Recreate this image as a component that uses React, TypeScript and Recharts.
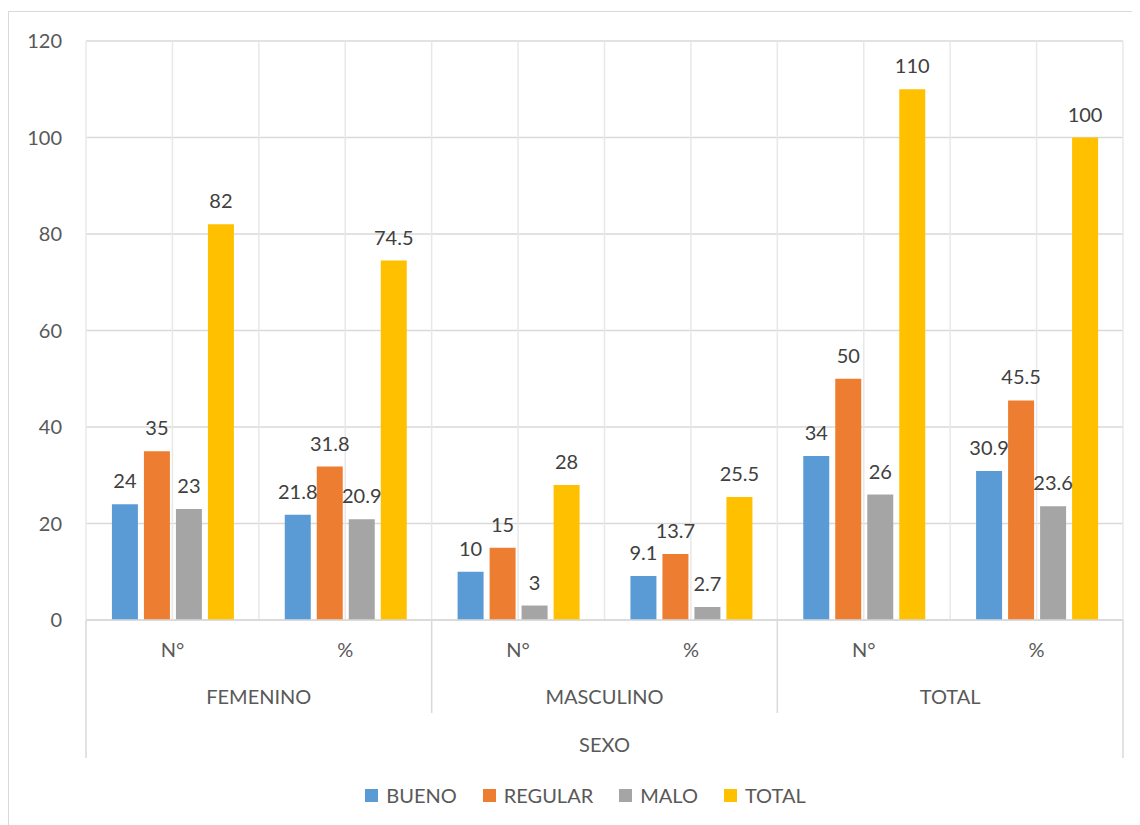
import React from 'react';
import {
  ComposedChart,
  Bar,
  XAxis,
  YAxis,
  CartesianGrid,
  Legend,
  LabelList,
} from 'recharts';

// Survey results by sex: count (N°) and percentage (%) per rating
const groups = ['FEMENINO', 'MASCULINO', 'TOTAL'];
const subLabels = ['N°', '%'];
const bueno = [24, 21.8, 10, 9.1, 34, 30.9];
const regular = [35, 31.8, 15, 13.7, 50, 45.5];
const malo = [23, 20.9, 3, 2.7, 26, 23.6];
const total = [82, 74.5, 28, 25.5, 110, 100];
const yTicks = [0, 20, 40, 60, 80, 100, 120];
const axisTitle = 'SEXO';

const series = [
  { key: 'BUENO', values: bueno, color: '#5B9BD5' },
  { key: 'REGULAR', values: regular, color: '#ED7D31' },
  { key: 'MALO', values: malo, color: '#A5A5A5' },
  { key: 'TOTAL', values: total, color: '#FFC000' },
];

const data = groups.flatMap((g, gi) =>
  subLabels.map((s, si) => {
    const i = gi * subLabels.length + si;
    const row: Record<string, string | number> = { id: `${g}|${s}`, group: g, sub: s };
    series.forEach((se) => {
      row[se.key] = se.values[i];
    });
    return row;
  })
);

const W = 1132;
const H = 817;
const MARGIN = { top: 33, right: 17, left: 0, bottom: 5 };
const Y_WIDTH = 78;
const PLOT_W = W - Y_WIDTH - MARGIN.right;
const STEP = PLOT_W / data.length;
const FONT = 'Lato, "Open Sans", sans-serif';
const AXIS_TEXT = '#595959';
const LABEL_TEXT = '#404040';
const LINE = '#d9d9d9';

const MultiLevelTick = (props: any) => {
  const { x, y, payload } = props;
  const i = payload.index;
  const row = data[i];
  const per = subLabels.length;
  const parts: React.ReactNode[] = [];
  parts.push(
    <text key="sub" x={x} y={y + 30} dy="0.35em" textAnchor="middle" fill={AXIS_TEXT} fontSize={20} fontFamily={FONT}>
      {row.sub as string}
    </text>
  );
  if (i % per === 0) {
    const left = x - STEP / 2;
    parts.push(
      <text key="grp" x={left + (STEP * per) / 2} y={y + 77} dy="0.35em" textAnchor="middle" fill={AXIS_TEXT} fontSize={20} fontFamily={FONT}>
        {row.group as string}
      </text>
    );
    parts.push(
      <line key="sep" x1={left} x2={left} y1={y} y2={y + (i === 0 ? 138 : 93)} stroke={LINE} strokeWidth={1.5} />
    );
    if (i === 0) {
      parts.push(
        <text key="title" x={left + PLOT_W / 2} y={y + 125} dy="0.35em" textAnchor="middle" fill={AXIS_TEXT} fontSize={20} fontFamily={FONT}>
          {axisTitle}
        </text>
      );
    }
  }
  if (i === data.length - 1) {
    const right = x + STEP / 2;
    parts.push(<line key="end" x1={right} x2={right} y1={y} y2={y + 138} stroke={LINE} strokeWidth={1.5} />);
  }
  return <g>{parts}</g>;
};

// Legend keeps the series order (BUENO, REGULAR, MALO, TOTAL)
const LegendContent = () => (
  <div style={{ height: 50, display: 'flex', justifyContent: 'center', alignItems: 'center', fontFamily: FONT, marginLeft: 40 }}>
    {series.map((se, k) => (
      <div key={se.key} style={{ display: 'flex', alignItems: 'center', marginRight: k === series.length - 1 ? 0 : 26 }}>
        <span style={{ width: 13, height: 13, background: se.color, display: 'inline-block', marginRight: 8 }} />
        <span style={{ fontSize: 20, color: AXIS_TEXT }}>{se.key}</span>
      </div>
    ))}
  </div>
);

export default function App() {
  return (
    <div style={{ position: 'relative', width: W, height: H, background: '#fff' }}>
      <div
        style={{
          position: 'absolute',
          left: 0,
          top: 3,
          right: -20,
          bottom: -20,
          borderTop: `1.5px solid ${LINE}`,
          borderLeft: `1.5px solid ${LINE}`,
          pointerEvents: 'none',
        }}
      />
      <ComposedChart
        width={W}
        height={H}
        data={data}
        margin={MARGIN}
        barCategoryGap="15%"
        barGap={6}
      >
        <CartesianGrid vertical={false} stroke={LINE} strokeWidth={1.5} />
        <CartesianGrid
          horizontal={false}
          stroke="#e8e8e8"
          strokeWidth={1.5}
          verticalCoordinatesGenerator={({ offset }: any) =>
            Array.from({ length: data.length * 2 + 1 }, (_, k) => offset.left + (k * offset.width) / (data.length * 2))
          }
        />
        <XAxis
          dataKey="id"
          height={150}
          interval={0}
          tickLine={false}
          tickSize={0}
          tickMargin={0}
          axisLine={{ stroke: LINE, strokeWidth: 1.5 }}
          tick={<MultiLevelTick />}
        />
        <YAxis
          width={Y_WIDTH}
          domain={[0, 120]}
          ticks={yTicks}
          tickLine={false}
          axisLine={false}
          tickMargin={18}
          tick={{ fill: AXIS_TEXT, fontSize: 20, fontFamily: FONT }}
        />
        <Legend verticalAlign="bottom" content={<LegendContent />} />
        {series.map((se) => (
          <Bar key={se.key} dataKey={se.key} name={se.key} fill={se.color} isAnimationActive={false}>
            <LabelList
              dataKey={se.key}
              position="top"
              offset={16}
              fill={LABEL_TEXT}
              fontSize={20}
              fontFamily={FONT}
            />
          </Bar>
        ))}
      </ComposedChart>
    </div>
  );
}
